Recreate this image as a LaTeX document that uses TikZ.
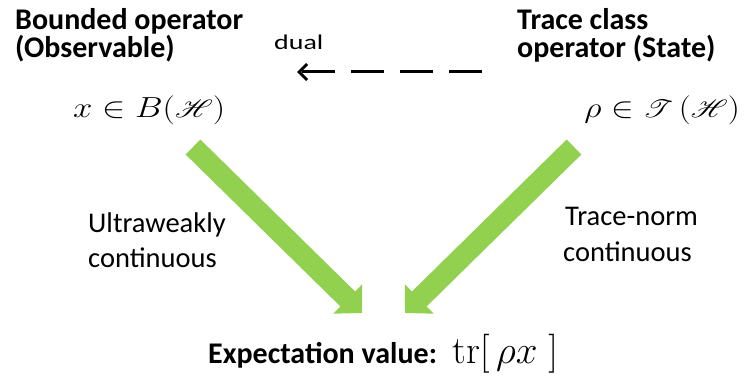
\RequirePackage{fix-cm}
\documentclass[tikz,border=0pt]{standalone}
\usepackage[no-math]{fontspec}
\setmainfont{Carlito}
\usepackage{mathrsfs}
\usetikzlibrary{arrows.meta}
\definecolor{arrowgreen}{HTML}{92D050}
\tikzset{
  hd/.style={font=\fontsize{30}{34}\selectfont\bfseries, inner sep=0pt, anchor=base west},
  lb/.style={font=\fontsize{28.5}{34}\selectfont, inner sep=0pt, anchor=base west},
  sm/.style={font=\fontsize{21}{24}\selectfont, inner sep=0pt, anchor=base west},
  mth/.style={font=\fontsize{29}{34}\selectfont, inner sep=0pt},
  bigarrow/.style={arrowgreen, line width=21pt, -{Triangle[length=20pt,width=40pt]}},
  dualarrow/.style={black, line width=3pt, dash pattern=on 33pt off 16pt, -{Straight Barb[length=8pt,width=16pt]}}
}
\begin{document}
\begin{tikzpicture}[x=1pt,y=-1pt]
\useasboundingbox (0,0) rectangle (744,379);
% headings
\node[hd] (bo1) at (15,30) {Bounded operator};
\node[hd] (bo2) at (15,58) {(Observable)};
\node[hd] (tc1) at (517,30) {Trace class};
\node[hd] (tc2) at (517,58) {operator (State)};
% dual
\node[sm] (dual) at (274,50) {\scalebox{1.33}[1]{dual}};
\coordinate (dualR) at (482,72);
\coordinate (dualL) at (297,72);
\draw[dualarrow] (dualR) -- (dualL);
% math
\node[mth, anchor=base west] (obs) at (73,118) {\scalebox{1.2}[1]{$x\in B(\mathscr{H})$}};
\node[mth, anchor=base east] (st) at (740,118) {\scalebox{1.17}[1]{$\rho\in \mathscr{T}\,(\mathscr{H})$}};
% green arrows
\coordinate (gLs) at (193,147);
\coordinate (gLe) at (362,313);
\coordinate (gRs) at (574,147);
\coordinate (gRe) at (405,313);
\draw[bigarrow] (gLs) -- (gLe);
\draw[bigarrow] (gRs) -- (gRe);
% labels
\node[lb] (uw1) at (88,233) {Ultraweakly};
\node[lb] (uw2) at (88,268) {continuous};
\node[lb] (tn1) at (565,226) {Trace-norm};
\node[lb] (tn2) at (563,262) {continuous};
% expectation
\node[hd] (ev) at (208,363) {Expectation value:};
\node[inner sep=0pt, anchor=base west, font=\fontsize{39}{42}\selectfont] (tr) at (452,363) {$\mathrm{tr}[\,\rho x\;]$};
\end{tikzpicture}
\end{document}
